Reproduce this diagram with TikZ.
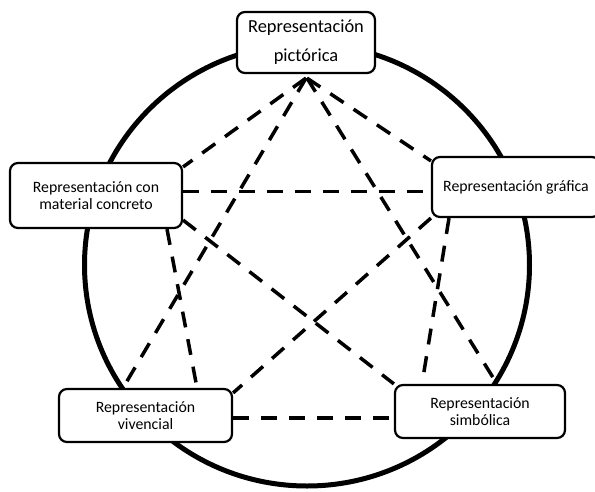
\documentclass[tikz,border=0pt]{standalone}
\usepackage{fontspec}
\setmainfont{Carlito}
\begin{document}
\begin{tikzpicture}[x=1pt,y=-1pt,
  box/.style={draw, line width=2.2pt, rounded corners=8pt, fill=white, inner sep=0pt, align=center, font=\fontsize{15.8}{17.5}\selectfont},
  link/.style={line width=3.5pt, dash pattern=on 16pt off 12pt}]
\useasboundingbox (0,0) rectangle (595,491);
\fill[white] (0,0) rectangle (595,491);
\draw[line width=5pt] (307,265) ellipse [x radius=222.5pt, y radius=221pt];
\node[box, minimum width=138pt, minimum height=61pt, font=\fontsize{18.4}{29}\selectfont] (top) at (306,42.5) {Representación\\pictórica};
\node[box, minimum width=172pt, minimum height=65pt] (left) at (96,195.5) {Representación con\\material concreto};
\node[box, minimum width=168pt, minimum height=60pt] (right) at (516,187) {Representación gráfica};
\node[box, minimum width=173pt, minimum height=53pt] (viv) at (145.5,415.5) {Representación\\vivencial};
\node[box, minimum width=170pt, minimum height=53pt] (sim) at (480,411.5) {Representación\\simbólica};
\draw[link] ([yshift=-4pt]top.south) -- ([yshift=-5pt]left.north east);
\draw[link] ([xshift=1pt,yshift=-4pt]top.south) -- ([yshift=-5pt]right.north west);
\draw[link] ([yshift=-4pt]top.south) -- ([xshift=-22.5pt]viv.north);
\draw[link] ([xshift=1pt,yshift=-4pt]top.south) -- ([xshift=17pt]sim.north);
\draw[link] ([yshift=3.8pt]left.east) -- ([yshift=-4.7pt]right.west);
\draw[link] ([xshift=71pt]left.south) -- ([xshift=51.5pt]viv.north);
\draw[link] ([yshift=9pt]left.south east) -- (sim.north west);
\draw[link] (right.south west) -- ([yshift=-5pt]viv.north east);
\draw[link] ([xshift=-67pt]right.south) -- ([xshift=-58pt]sim.north);
\draw[link] ([yshift=-2.5pt]viv.east) -- ([yshift=-6.5pt]sim.west);
\end{tikzpicture}
\end{document}
